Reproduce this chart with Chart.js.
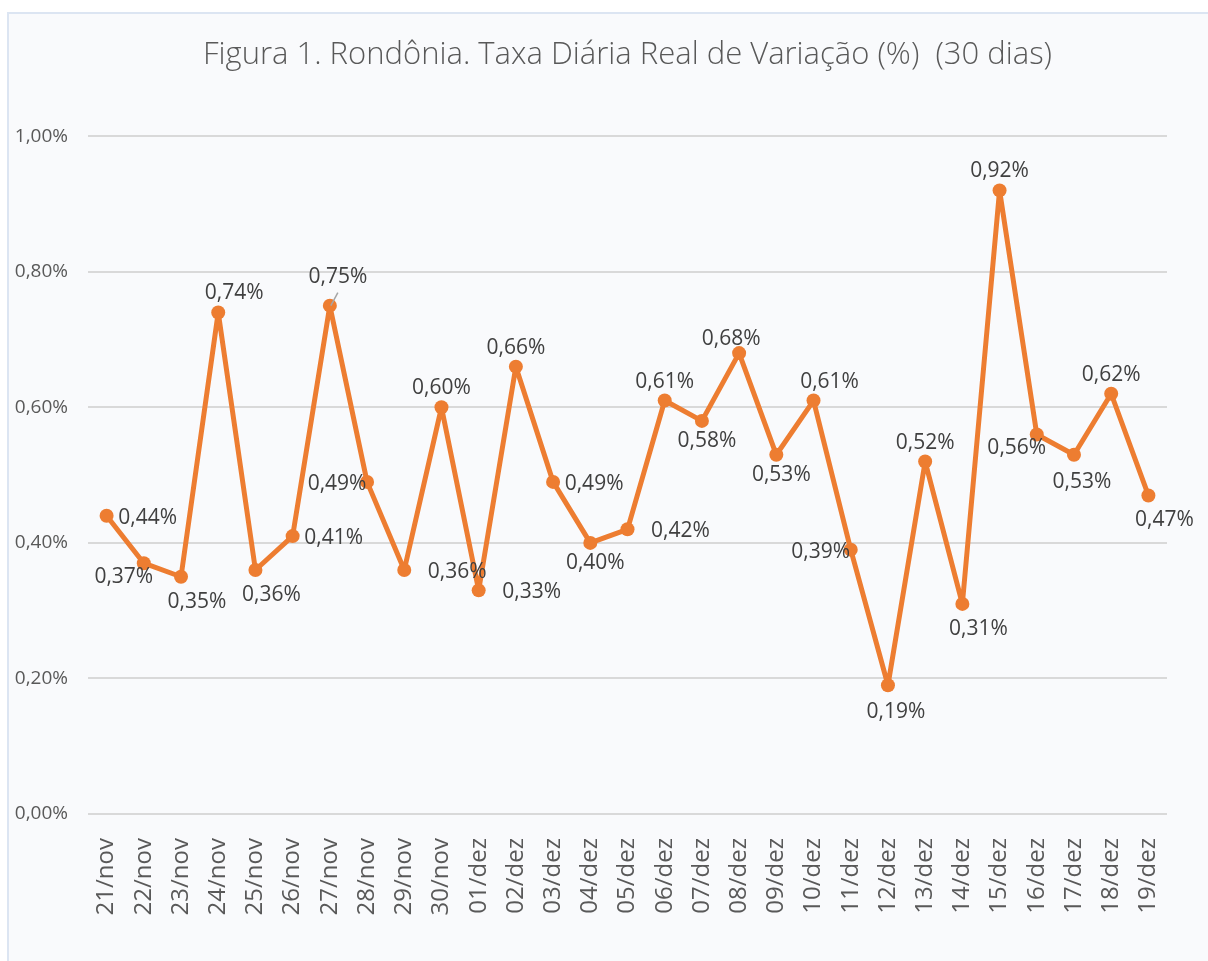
<!DOCTYPE html>
<html lang="pt">
<head>
  <meta charset="UTF-8">
  <title>Rondônia - Taxa Diária Real de Variação</title>
  <script src="https://cdn.jsdelivr.net/npm/chart.js@4.4.2/dist/chart.umd.min.js"></script>
  <style>
    body { margin: 0; background: #fff; }
    #wrap { position: relative; width: 1208px; height: 961px; }
  </style>
</head>
<body>
<div id="wrap">
  <canvas id="taxaChart" width="1208" height="961"></canvas>
</div>
<script>
  // dados (em %)
  const dias = ['21/nov', '22/nov', '23/nov', '24/nov', '25/nov', '26/nov', '27/nov', '28/nov', '29/nov', '30/nov',
    '01/dez', '02/dez', '03/dez', '04/dez', '05/dez', '06/dez', '07/dez', '08/dez', '09/dez', '10/dez',
    '11/dez', '12/dez', '13/dez', '14/dez', '15/dez', '16/dez', '17/dez', '18/dez', '19/dez'];
  const taxa = [0.44, 0.37, 0.35, 0.74, 0.36, 0.41, 0.75, 0.49, 0.36, 0.60,
    0.33, 0.66, 0.49, 0.40, 0.42, 0.61, 0.58, 0.68, 0.53, 0.61,
    0.39, 0.19, 0.52, 0.31, 0.92, 0.56, 0.53, 0.62, 0.47];
  const yTicks = [0, 0.2, 0.4, 0.6, 0.8, 1.0];

  // where each data label sits relative to its point (as in the original sheet)
  const labelPlace = ['r', 'bl', 'br', 'ar', 'br', 'r', 'aLine', 'l', 'rr', 'a',
    'rr', 'a', 'r', 'b', 'rr', 'a', 'b', 'al', 'b', 'ar',
    'l', 'bb', 'a', 'br', 'a', 'bl', 'bb', 'a', 'br'];
  const placeOffset = {
    r: [41, 2], rr: [53, 2], l: [-30, 2],
    a: [0, -19], ar: [16, -19], al: [-8, -14], aLine: [8, -29],
    b: [5, 20], bb: [8, 27], br: [16, 25], bl: [-20, 14]
  };

  const fmt = v => v.toFixed(2).replace('.', ',') + '%';
  const FONT = "'Open Sans', 'Noto Sans', sans-serif";

  const frame = {
    id: 'frame',
    beforeDraw(chart) {
      const c = chart.ctx;
      c.save();
      c.fillStyle = '#ffffff';
      c.fillRect(0, 0, chart.width, chart.height);
      c.fillStyle = '#f9fafc';
      c.fillRect(7, 12, chart.width - 7, chart.height - 12);
      c.strokeStyle = '#dce5f2';
      c.lineWidth = 2;
      c.beginPath();
      c.moveTo(8, chart.height);
      c.lineTo(8, 13);
      c.lineTo(chart.width, 13);
      c.stroke();
      c.restore();
    }
  };

  const dataLabels = {
    id: 'dataLabels',
    afterDatasetsDraw(chart) {
      const c = chart.ctx;
      const meta = chart.getDatasetMeta(0);
      c.save();
      c.font = "21px " + FONT;
      c.fillStyle = '#404040';
      c.textAlign = 'center';
      c.textBaseline = 'middle';
      meta.data.forEach((pt, i) => {
        const key = labelPlace[i];
        const off = placeOffset[key];
        const x = pt.x + off[0], y = pt.y + off[1];
        if (key === 'aLine') {
          c.strokeStyle = '#a6a6a6';
          c.lineWidth = 1.5;
          c.beginPath();
          c.moveTo(x, y + 16);
          c.lineTo(pt.x + 1, pt.y);
          c.stroke();
        }
        c.fillText(fmt(taxa[i]), x, y);
      });
      c.restore();
    }
  };

  new Chart(document.getElementById('taxaChart'), {
    type: 'line',
    data: {
      labels: dias,
      datasets: [{
        data: taxa,
        borderColor: '#ed7d31',
        backgroundColor: '#ed7d31',
        borderWidth: 5,
        borderJoinStyle: 'round',
        borderCapStyle: 'round',
        pointRadius: 7,
        pointBorderWidth: 0,
        pointHoverRadius: 7,
        tension: 0
      }]
    },
    options: {
      responsive: false,
      animation: false,
      layout: { padding: { left: 8, right: 41, top: 0, bottom: 0 } },
      plugins: {
        legend: { display: false },
        tooltip: { enabled: false },
        title: {
          display: true,
          fullSize: false,
          text: 'Figura 1. Rondônia. Taxa Diária Real de Variação (%)  (30 dias)',
          color: '#595959',
          font: { family: FONT, size: 31, weight: '300' },
          padding: { top: 37, bottom: 62 }
        }
      },
      scales: {
        x: {
          offset: true,
          grid: { display: false },
          border: { display: false },
          ticks: {
            color: '#595959',
            font: { family: FONT, size: 24 },
            minRotation: 90,
            maxRotation: 90,
            autoSkip: false,
            padding: 16
          },
          afterFit(scale) { scale.height = 147; }
        },
        y: {
          min: 0,
          max: 1,
          afterBuildTicks(scale) { scale.ticks = yTicks.map(v => ({ value: v })); },
          grid: { color: '#d9d9d9', lineWidth: 2, drawTicks: false },
          border: { display: false },
          ticks: {
            color: '#595959',
            font: { family: FONT, size: 19 },
            padding: 20,
            callback: v => fmt(v)
          },
          afterFit(scale) { scale.width = 80; }
        }
      }
    },
    plugins: [frame, dataLabels]
  });
</script>
</body>
</html>
